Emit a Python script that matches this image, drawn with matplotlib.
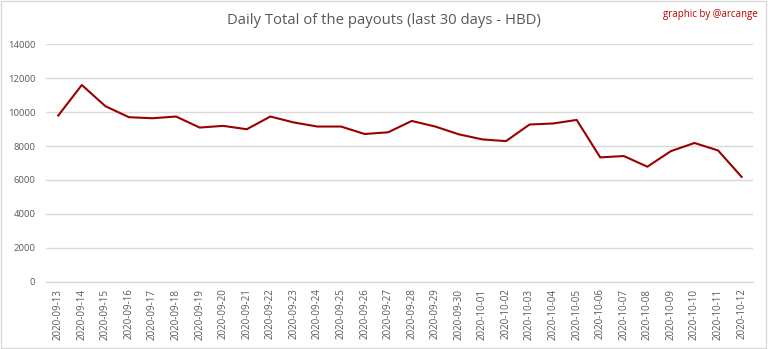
import matplotlib
matplotlib.use("Agg")
import matplotlib.pyplot as plt
from matplotlib.patches import Rectangle

dates = ["2020-09-13", "2020-09-14", "2020-09-15", "2020-09-16", "2020-09-17",
         "2020-09-18", "2020-09-19", "2020-09-20", "2020-09-21", "2020-09-22",
         "2020-09-23", "2020-09-24", "2020-09-25", "2020-09-26", "2020-09-27",
         "2020-09-28", "2020-09-29", "2020-09-30", "2020-10-01", "2020-10-02",
         "2020-10-03", "2020-10-04", "2020-10-05", "2020-10-06", "2020-10-07",
         "2020-10-08", "2020-10-09", "2020-10-10", "2020-10-11", "2020-10-12"]
payouts = [9800, 11600, 10350, 9700, 9640, 9740, 9090, 9190, 8990, 9740,
           9390, 9150, 9150, 8710, 8810, 9480, 9150, 8690, 8390, 8290,
           9270, 9330, 9540, 7330, 7410, 6780, 7700, 8180, 7740, 6180]
yticks = [0, 2000, 4000, 6000, 8000, 10000, 12000, 14000]

plt.rcParams['font.family'] = ['Open Sans', 'DejaVu Sans']

fig = plt.figure(figsize=(7.68, 3.49), dpi=100)
fig.patch.set_facecolor("white")
ax = fig.add_axes([0.0605, 0.193, 0.9205, 0.68])

x = list(range(len(dates)))
ax.plot(x, payouts, color="#9b0000", linewidth=1.5, solid_joinstyle="round")

ax.set_xlim(-0.5, len(dates) - 0.5)
ax.set_ylim(0, 14000)
ax.set_yticks(yticks)
ax.set_yticklabels([str(v) for v in yticks], fontsize=6.8)
ax.set_xticks(x)
ax.set_xticklabels(dates, rotation=90, va="top", fontsize=7)
ax.grid(axis="y", color="#d9d9d9", linewidth=1.0)
ax.set_axisbelow(True)
for side in ("top", "right", "left"):
    ax.spines[side].set_visible(False)
ax.spines["bottom"].set_color("#d9d9d9")
ax.spines["bottom"].set_linewidth(1.0)
ax.tick_params(axis="both", length=0, colors="#595959")
ax.tick_params(axis="x", pad=5)
ax.tick_params(axis="y", pad=8)

fig.text(0.5, 0.942, "Daily Total of the payouts (last 30 days - HBD)",
         ha="center", va="center", fontsize=10.7, color="#595959")
fig.text(0.987, 0.958, "graphic by @arcange", ha="right", va="center",
         fontsize=7, color="#c00000")

fig.patches.append(Rectangle((0.001, 0.002), 0.997, 0.995, transform=fig.transFigure,
                             fill=False, edgecolor="#d9d9d9", linewidth=1.0))

fig.savefig("out.png", dpi=100, facecolor="white")
